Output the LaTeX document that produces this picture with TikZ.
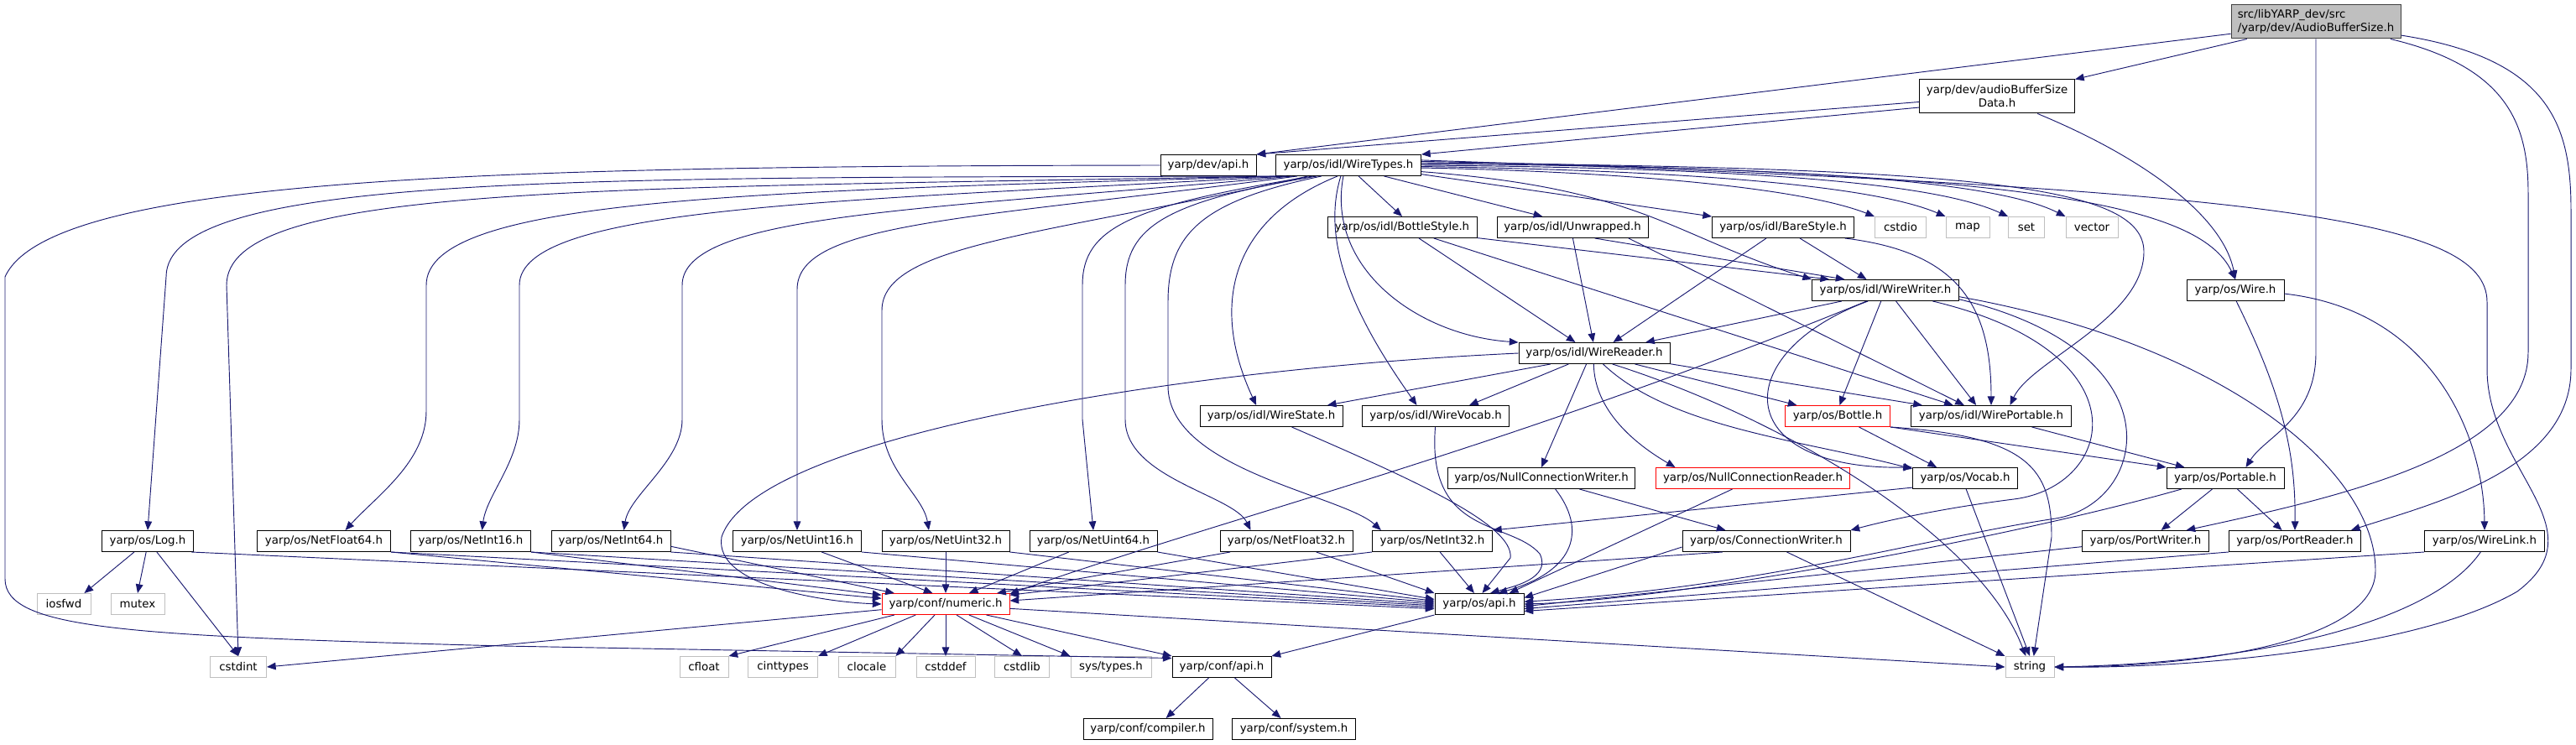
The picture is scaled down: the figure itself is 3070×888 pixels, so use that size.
\documentclass[tikz,border=0pt]{standalone}
\usepackage{fontspec}
\setmainfont{DejaVu Sans}
\usepackage{tikz}
\usetikzlibrary{arrows.meta}

\definecolor{edgeblue}{HTML}{191970}
\definecolor{sysgray}{HTML}{BFBFBF}
\definecolor{rootline}{HTML}{404040}

\begin{document}
\begin{tikzpicture}[
    x=0.75pt, y=-0.75pt,
    hdr/.style={rectangle, draw=black, line width=0.75pt, fill=white, minimum height=18.75pt, inner xsep=2pt, inner ysep=1pt, font=\fontsize{10}{12}\selectfont},
    sys/.style={hdr, draw=sysgray},
    trunc/.style={hdr, draw=red},
    focus/.style={hdr, draw=rootline, fill=sysgray, minimum height=30pt},
    bw/.style={minimum width=#1*0.75pt},
    dep/.style={draw=edgeblue, line width=0.7pt, -{Triangle[length=8pt,width=6.5pt]}}
]
\useasboundingbox (0,0) rectangle (3070,888);

% headers
\node[focus, bw=202, align=left] (root) at (2760,26) {src/libYARP\_dev/src\\/yarp/dev/AudioBufferSize.h};
\node[hdr, bw=185, minimum height=30pt, align=center] (bsdata) at (2380,115) {yarp/dev/audioBufferSize\\Data.h};
\node[hdr, bw=114] (devapi) at (1440,197) {yarp/dev/api.h};
\node[hdr, bw=173] (wiretypes) at (1607,197) {yarp/os/idl/WireTypes.h};
\node[hdr, bw=178] (bottlestyle) at (1671,271) {yarp/os/idl/BottleStyle.h};
\node[hdr, bw=180] (unwrapped) at (1874,271) {yarp/os/idl/Unwrapped.h};
\node[hdr, bw=169] (barestyle) at (2125,271) {yarp/os/idl/BareStyle.h};
\node[sys, bw=61] (cstdio) at (2265,271) {cstdio};
\node[sys, bw=52] (map) at (2345,271) {map};
\node[sys, bw=43] (set) at (2415,271) {set};
\node[sys, bw=62] (vector) at (2493,271) {vector};
\node[hdr, bw=175] (wirewriter) at (2247,346) {yarp/os/idl/WireWriter.h};
\node[hdr, bw=116] (wire) at (2664,346) {yarp/os/Wire.h};
\node[hdr, bw=180] (wirereader) at (1900,421) {yarp/os/idl/WireReader.h};
\node[hdr, bw=170] (wirestate) at (1515,496) {yarp/os/idl/WireState.h};
\node[hdr, bw=175] (wirevocab) at (1711,496) {yarp/os/idl/WireVocab.h};
\node[trunc, bw=125] (bottle) at (2190,496) {yarp/os/Bottle.h};
\node[hdr, bw=191] (wireportable) at (2373,496) {yarp/os/idl/WirePortable.h};
\node[hdr, bw=223] (nullwriter) at (1837,570) {yarp/os/NullConnectionWriter.h};
\node[trunc, bw=231] (nullreader) at (2089,570) {yarp/os/NullConnectionReader.h};
\node[hdr, bw=125] (vocab) at (2342,570) {yarp/os/Vocab.h};
\node[hdr, bw=140] (portable) at (2652,570) {yarp/os/Portable.h};
\node[hdr, bw=109] (log) at (176,645) {yarp/os/Log.h};
\node[hdr, bw=159] (netfloat64) at (386,645) {yarp/os/NetFloat64.h};
\node[hdr, bw=143] (netint16) at (561,645) {yarp/os/NetInt16.h};
\node[hdr, bw=142] (netint64) at (728,645) {yarp/os/NetInt64.h};
\node[hdr, bw=153] (netuint16) at (950,645) {yarp/os/NetUint16.h};
\node[hdr, bw=152] (netuint32) at (1127,645) {yarp/os/NetUint32.h};
\node[hdr, bw=152] (netuint64) at (1303,645) {yarp/os/NetUint64.h};
\node[hdr, bw=158] (netfloat32) at (1533,645) {yarp/os/NetFloat32.h};
\node[hdr, bw=143] (netint32) at (1707,645) {yarp/os/NetInt32.h};
\node[hdr, bw=200] (connwriter) at (2105,645) {yarp/os/ConnectionWriter.h};
\node[hdr, bw=151] (portwriter) at (2557,645) {yarp/os/PortWriter.h};
\node[hdr, bw=157] (portreader) at (2735,645) {yarp/os/PortReader.h};
\node[hdr, bw=143] (wirelink) at (2961,645) {yarp/os/WireLink.h};
\node[sys, bw=64] (iosfwd) at (76,720) {iosfwd};
\node[sys, bw=64] (mutex) at (164,720) {mutex};
\node[trunc, bw=152] (numeric) at (1127,720) {yarp/conf/numeric.h};
\node[hdr, bw=106] (osapi) at (1763,720) {yarp/os/api.h};
\node[sys, bw=67] (cstdint) at (284,795) {cstdint};
\node[sys, bw=58] (cfloat) at (839,795) {cfloat};
\node[sys, bw=83] (cinttypes) at (933,795) {cinttypes};
\node[sys, bw=68] (clocale) at (1033,795) {clocale};
\node[sys, bw=70] (cstddef) at (1127,795) {cstddef};
\node[sys, bw=65] (cstdlib) at (1218,795) {cstdlib};
\node[sys, bw=96] (systypes) at (1324,795) {sys/types.h};
\node[hdr, bw=118] (confapi) at (1456,795) {yarp/conf/api.h};
\node[sys, bw=58] (string) at (2419,795) {string};
\node[hdr, bw=154] (compiler) at (1368,869) {yarp/conf/compiler.h};
\node[hdr, bw=147] (system) at (1542,869) {yarp/conf/system.h};

% AudioBufferSize.h
\draw[dep] (root.-172) -- (devapi.north east);
\draw[dep] (root.-166) -- (bsdata.north east);
\draw[dep] (root.south) -- (2760,420) .. controls (2760,500) and (2700,520) .. (portable.28);
\draw[dep] (root.-13) .. controls (2990,80) and (3013,150) .. (3013,230) -- (3013,420) .. controls (3013,540) and (2800,590) .. (portwriter.15);
\draw[dep] (root.-9) .. controls (3040,70) and (3064,150) .. (3064,250) -- (3064,440) .. controls (3064,560) and (2900,600) .. (portreader.11);

% audioBufferSizeData.h, dev/api.h
\draw[dep] (bsdata.184) -- (devapi.north east);
\draw[dep] (bsdata.188) -- (wiretypes.north east);
\draw[dep] (bsdata.-23) .. controls (2560,190) and (2650,260) .. (wire.north);
\draw[dep] (devapi.west) .. controls (600,198) and (60,210) .. (6,330) -- (6,690) .. controls (6,750) and (150,758) .. (600,770) -- (confapi.170);

% WireTypes.h
\draw[dep] (wiretypes.-171) .. controls (700,212) and (198,205) .. (198,330) -- (log.north);
\draw[dep] (wiretypes.-171) .. controls (700,225) and (270,220) .. (270,340) -- (cstdint.north);
\draw[dep] (wiretypes.-170) .. controls (900,228) and (508,235) .. (508,340) -- (508,490) .. controls (508,550) and (450,590) .. (netfloat64.27);
\draw[dep] (wiretypes.-170) .. controls (1000,240) and (619,245) .. (619,340) -- (619,500) .. controls (619,550) and (580,590) .. (netint16.44);
\draw[dep] (wiretypes.-169) .. controls (1100,250) and (813,255) .. (813,340) -- (813,500) .. controls (813,550) and (750,590) .. (netint64.40);
\draw[dep] (wiretypes.-168) .. controls (1150,262) and (950,265) .. (950,345) -- (netuint16.north);
\draw[dep] (wiretypes.-165) .. controls (1250,280) and (1051,290) .. (1051,370) -- (1051,500) .. controls (1051,560) and (1100,590) .. (netuint32.147);
\draw[dep] (wiretypes.-163) .. controls (1350,245) and (1290,270) .. (1290,340) -- (1290,500) -- (netuint64.north);
\draw[dep] (wiretypes.-161) .. controls (1390,240) and (1341,270) .. (1341,340) -- (1341,500) .. controls (1341,570) and (1470,590) .. (netfloat32.163);
\draw[dep] (wiretypes.-158) .. controls (1430,240) and (1392,280) .. (1392,360) -- (1392,460) .. controls (1392,560) and (1600,590) .. (netint32.168);
\draw[dep] (wiretypes.-135) .. controls (1470,260) and (1440,360) .. (wirestate.144);
\draw[dep] (wiretypes.-125) .. controls (1570,300) and (1630,400) .. (wirevocab.150);
\draw[dep] (wiretypes.-115) .. controls (1580,320) and (1690,400) .. (wirereader.north west);
\draw[dep] (wiretypes.-47) -- (bottlestyle.north);
\draw[dep] (wiretypes.-17) -- (unwrapped.160);
\draw[dep] (wiretypes.-7) -- (barestyle.north west);
\draw[dep] (wiretypes.-5) .. controls (1960,225) and (1990,280) .. (wirewriter.north west);
\draw[dep] (wiretypes.-2) .. controls (1950,205) and (2150,225) .. (cstdio.north west);
\draw[dep] (wiretypes.-1) .. controls (2000,203) and (2230,220) .. (map.north west);
\draw[dep] (wiretypes.0) .. controls (2050,200) and (2300,215) .. (set.north west);
\draw[dep] (wiretypes.1) .. controls (2100,198) and (2370,212) .. (vector.north west);
\draw[dep] (wiretypes.2) .. controls (2350,200) and (2555,220) .. (2555,300) .. controls (2555,380) and (2420,430) .. (wireportable.30);
\draw[dep] (wiretypes.3) .. controls (2400,205) and (2620,240) .. (wire.north);
\draw[dep] (wiretypes.4) .. controls (2700,225) and (2964,260) .. (2964,360) -- (2964,440) .. controls (2964,560) and (3100,630) .. (3000,705) .. controls (2880,775) and (2600,797) .. (string.east);

% idl styles
\draw[dep] (bottlestyle.-33) -- (wirereader.150);
\draw[dep] (bottlestyle.-8) -- (wirewriter.169);
\draw[dep] (bottlestyle.-19) -- (wireportable.164);
\draw[dep] (unwrapped.-88) -- (wirereader.95);
\draw[dep] (unwrapped.-26) -- (wirewriter.165);
\draw[dep] (unwrapped.-11) -- (wireportable.158);
\draw[dep] (barestyle.-147) -- (wirereader.30);
\draw[dep] (barestyle.-33) -- (wirewriter.150);
\draw[dep] (barestyle.-10) .. controls (2330,300) and (2373,360) .. (wireportable.north);

% WireWriter.h
\draw[dep] (wirewriter.-166) -- (wirereader.12);
\draw[dep] (wirewriter.-150) .. controls (1780,540) and (1450,620) .. (numeric.9);
\draw[dep] (wirewriter.-148) .. controls (2060,420) and (2060,560) .. (vocab.north west);
\draw[dep] (wirewriter.-112) -- (bottle.80);
\draw[dep] (wirewriter.-46) -- (wireportable.144);
\draw[dep] (wirewriter.-13) .. controls (2560,420) and (2520,580) .. (2400,595) .. controls (2320,605) and (2250,620) .. (connwriter.north east);
\draw[dep] (wirewriter.-7) .. controls (2600,420) and (2560,600) .. (2450,618) .. controls (2300,640) and (2100,700) .. (osapi.3);
\draw[dep] (wirewriter.-5) .. controls (2650,410) and (2831,560) .. (2831,680) .. controls (2831,770) and (2600,795) .. (string.east);

% WireReader.h
\draw[dep] (wirereader.west) .. controls (1400,440) and (900,520) .. (860,640) .. controls (850,700) and (990,718) .. (numeric.west);
\draw[dep] (wirereader.-166) -- (wirestate.11);
\draw[dep] (wirereader.-157) -- (wirevocab.18);
\draw[dep] (wirereader.-126) -- (nullwriter.north);
\draw[dep] (wirereader.-93) .. controls (1900,490) and (1950,530) .. (nullreader.172);
\draw[dep] (wirereader.-51) .. controls (1990,510) and (2150,525) .. (vocab.170);
\draw[dep] (wirereader.-31) .. controls (2130,500) and (2360,640) .. (string.110);
\draw[dep] (wirereader.-15) -- (bottle.165);
\draw[dep] (wirereader.-8) -- (wireportable.171);

% WireState.h, WireVocab.h, null connections
\draw[dep] (wirestate.-28) .. controls (1680,570) and (1805,625) .. (1800,665) -- (osapi.75);
\draw[dep] (wirevocab.-92) .. controls (1700,640) and (1800,620) .. (1835,660) .. controls (1850,690) and (1800,700) .. (osapi.45);
\draw[dep] (nullwriter.-16) -- (connwriter.165);
\draw[dep] (nullwriter.-38) .. controls (1890,630) and (1880,680) .. (osapi.30);
\draw[dep] (nullreader.-152) -- (osapi.20);

% Bottle.h, WirePortable.h, Vocab.h
\draw[dep] (bottle.-27) -- (vocab.159);
\draw[dep] (bottle.south east) -- (portable.north west);
\draw[dep] (bottle.south east) .. controls (2420,520) and (2445,560) .. (2445,640) -- (string.70);
\draw[dep] (wireportable.-15) -- (portable.165);
\draw[dep] (vocab.-170) -- (netint32.north east);
\draw[dep] (vocab.-85) -- (string.north);

% Portable.h, Wire.h and the port headers
\draw[dep] (portable.-166) .. controls (2400,640) and (2000,715) .. (osapi.0);
\draw[dep] (portable.-140) -- (portwriter.35);
\draw[dep] (portable.-42) -- (portreader.140);
\draw[dep] (wire.-85) .. controls (2720,470) and (2736,540) .. (portreader.north);
\draw[dep] (wire.-4) .. controls (2900,370) and (2960,520) .. (wirelink.north);
\draw[dep] (portwriter.-175) -- (osapi.-3);
\draw[dep] (portreader.south west) -- (osapi.-6);
\draw[dep] (wirelink.south west) -- (osapi.-9);
\draw[dep] (wirelink.-110) .. controls (2900,740) and (2700,790) .. (string.east);
\draw[dep] (connwriter.-176) -- (osapi.8);
\draw[dep] (connwriter.-166) -- (numeric.3);
\draw[dep] (connwriter.-28) -- (string.north west);

% Log.h
\draw[dep] (log.-141) -- (iosfwd.28);
\draw[dep] (log.-98) -- (mutex.north);
\draw[dep] (log.-50) -- (cstdint.north);
\draw[dep] (log.-14) -- (osapi.186);

% Net types
\draw[dep] (netfloat64.south east) -- (numeric.175);
\draw[dep] (netfloat64.south east) -- (osapi.184);
\draw[dep] (netint16.south east) -- (numeric.172);
\draw[dep] (netint16.south east) -- (osapi.182);
\draw[dep] (netint64.-5) -- (numeric.168);
\draw[dep] (netint64.south east) -- (osapi.180);
\draw[dep] (netuint16.-24) -- (numeric.140);
\draw[dep] (netuint16.south east) -- (osapi.178);
\draw[dep] (netuint32.south) -- (numeric.north);
\draw[dep] (netuint32.south east) -- (osapi.176);
\draw[dep] (netuint64.-156) -- (numeric.25);
\draw[dep] (netuint64.south east) -- (osapi.174);
\draw[dep] (netfloat32.-169) -- (numeric.12);
\draw[dep] (netfloat32.-20) -- (osapi.north west);
\draw[dep] (netint32.south west) -- (numeric.8);
\draw[dep] (netint32.-55) -- (osapi.115);

% conf headers
\draw[dep] (numeric.-175) -- (cstdint.east);
\draw[dep] (numeric.-168) -- (cfloat.north east);
\draw[dep] (numeric.-160) -- (cinttypes.north east);
\draw[dep] (numeric.-135) -- (clocale.north east);
\draw[dep] (numeric.south) -- (cstddef.north);
\draw[dep] (numeric.-45) -- (cstdlib.north);
\draw[dep] (numeric.-25) -- (systypes.north west);
\draw[dep] (numeric.-15) -- (confapi.north west);
\draw[dep] (numeric.-4) -- (string.west);
\draw[dep] (osapi.south west) -- (confapi.north east);
\draw[dep] (confapi.-140) -- (compiler.31);
\draw[dep] (confapi.-40) -- (system.140);
\end{tikzpicture}
\end{document}
